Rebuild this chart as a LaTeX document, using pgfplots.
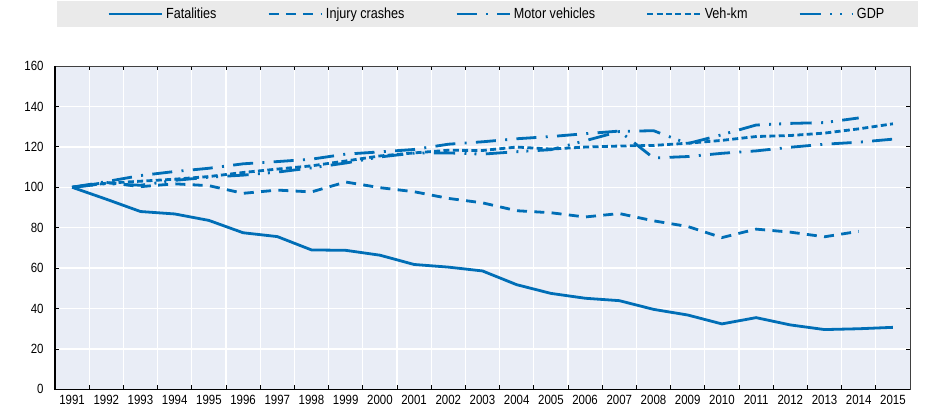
\documentclass[border=0pt]{standalone}
\usepackage{fontspec}
\setmainfont[FakeStretch=0.86]{Liberation Sans}
\usepackage{pgfplots}
\pgfplotsset{compat=1.18}
\definecolor{lc}{RGB}{0,110,182}
\definecolor{bgc}{RGB}{233,237,246}
\definecolor{lgc}{RGB}{234,234,234}
\tikzset{myline/.style={draw=lc, line width=2.1pt}}
\pgfplotstableread{
x fat inj mv vkm gdp
0 100 100 100 100 100
1 94.1 102.4 102.8 102 101.8
2 88.0 100.3 105.8 103 101
3 86.8 101.7 107.8 104 103.4
4 83.6 100.8 109.4 105.3 105
5 77.5 97.0 111.6 107.3 106
6 75.6 98.6 112.7 109 107.5
7 69.0 97.7 113.9 110.6 109.6
8 68.8 102.6 116.4 113 112
9 66.4 99.8 117.5 115.5 115
10 61.8 97.8 118.7 117 116.9
11 60.5 94.5 121.3 118.3 117
12 58.6 92.3 122.5 118.2 116.4
13 51.8 88.4 124 119.9 117.6
14 47.5 87.4 125.1 118.9 118.6
15 45.1 85.3 126.5 119.9 123
16 43.9 87.0 127.8 120.4 127.6
17 39.6 83.4 114.5 120.7 128
18 36.8 80.6 115.2 121.8 121.6
19 32.4 75.1 116.8 123.2 126
20 35.5 79.3 118 125.1 130.8
21 31.9 77.8 119.8 125.6 131.6
22 29.6 75.5 121.3 126.8 132
23 30.0 78.2 122.3 128.9 134.3
24 30.7 nan 123.8 131.4 nan
}\datatable
\begin{document}
\begin{tikzpicture}
\useasboundingbox (-41.25pt,-20.7pt) rectangle (654.75pt,292.05pt);
\fill[lgc] (1.5pt,271.8pt) rectangle (647.25pt,291.3pt);
\begin{axis}[
  scale only axis, width=641.25pt, height=242.55pt,
  at={(0pt,0pt)}, anchor=south west,
  xmin=-0.5, xmax=24.5, ymin=0, ymax=160,
  clip=false,
  axis background/.style={fill=bgc},
  xtick={0,...,24},
  xticklabels={1991,1992,1993,1994,1995,1996,1997,1998,1999,2000,2001,2002,2003,2004,2005,2006,2007,2008,2009,2010,2011,2012,2013,2014,2015},
  major x tick style={draw=none},
  minor xtick={0.5,1.5,...,23.5},
  xminorgrids, ymajorgrids,
  grid style={white, line width=1pt},
  minor grid style={white, line width=1pt},
  ytick={0,20,...,160},
  tick align=inside, major tick length=3pt, minor tick length=3pt,
  tick style={black, line width=0.6pt},
  axis line style={draw=black!75, line width=0.5pt},
  ticklabel style={font=\fontsize{10}{11}\selectfont},
  /pgf/number format/assume math mode=true,
  yticklabel style={xshift=-5pt},
  xticklabel style={yshift=-1pt},
  no markers,
  legend image code/.code={\draw[#1] (0pt,0pt) -- (40pt,0pt);},
  legend style={at={(rel axis cs:0.0608,1.1608)}, anchor=west, draw=none, fill=none,
    inner sep=0pt, font=\fontsize{11}{12}\selectfont, legend columns=-1,
    /tikz/every even column/.append style={column sep=36pt},
    /tikz/every odd column/.append style={column sep=0pt}},
]
\addplot[myline] table[x=x,y=fat] {\datatable};
\addlegendentry{Fatalities}
\addplot[myline, dash pattern=on 7.5pt off 5.5pt] table[x=x,y=inj] {\datatable};
\addlegendentry{Injury crashes}
\addplot[myline, dash pattern=on 15pt off 7pt on 1.5pt off 7pt] table[x=x,y=mv] {\datatable};
\addlegendentry{Motor vehicles}
\addplot[myline, dash pattern=on 4.5pt off 2.5pt] table[x=x,y=vkm] {\datatable};
\addlegendentry{Veh-km}
\addplot[myline, dash pattern=on 16pt off 7pt on 1.5pt off 6pt on 1.5pt off 7pt] table[x=x,y=gdp] {\datatable};
\addlegendentry{GDP}
\draw[black, line width=1.3pt] (rel axis cs:0,1) -- (rel axis cs:0,0) -- (rel axis cs:1,0);
\end{axis}
\end{tikzpicture}
\end{document}
